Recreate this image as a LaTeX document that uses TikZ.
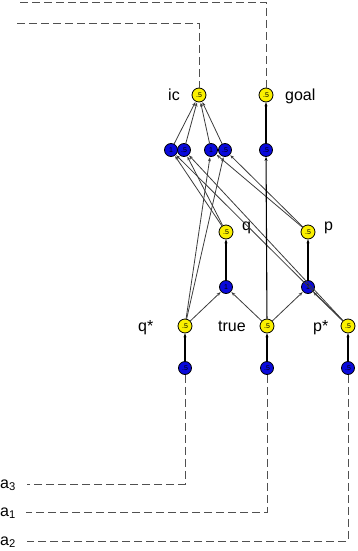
\documentclass[tikz,border=0pt]{standalone}
\usepackage{fontspec}
\setmainfont{Liberation Sans}
\usetikzlibrary{arrows.meta}
\definecolor{ynode}{RGB}{250,240,0}
\definecolor{bnode}{RGB}{10,10,220}
\definecolor{edgegray}{RGB}{60,60,60}
\definecolor{dashgray}{RGB}{80,80,80}
\tikzset{
  lit/.style={circle,draw=black,line width=0.8pt,fill=ynode,minimum size=14pt,inner sep=0pt,
    font=\fontsize{7}{7}\selectfont},
  rulenode/.style={circle,draw=black,line width=0.8pt,fill=bnode,minimum size=13pt,inner sep=0pt,
    font=\fontsize{7}{7}\selectfont},
  tagtext/.style={anchor=base west,inner sep=0pt,font=\fontsize{16}{18}\selectfont},
  link/.style={draw=edgegray,line width=0.8pt,-{Stealth[length=4pt,width=3pt]},shorten >=0.5pt},
  vlink/.style={draw=black,line width=1.1pt,-{Stealth[length=4pt,width=3pt]}},
  query/.style={draw=dashgray,line width=0.9pt,dash pattern=on 8pt off 4pt},
}
\begin{document}
\begin{tikzpicture}[x=1pt,y=-1pt]
\useasboundingbox (0,0) rectangle (358,551);

% literal nodes
\node[lit] (ic)   at (199,95)  {.5};
\node[lit] (goal) at (266,95)  {.5};
\node[lit] (q)    at (226,232) {.5};
\node[lit] (p)    at (308,232) {.5};
\node[lit] (qs)   at (185,326) {.5};
\node[lit] (tr)   at (267,326) {.5};
\node[lit] (ps)   at (348,326) {.5};

% rule nodes
\node[rulenode] (r1) at (171,150) {1};
\node[rulenode] (r2) at (184,150) {.5};
\node[rulenode] (r3) at (211,150) {1};
\node[rulenode] (r4) at (225,150) {.5};
\node[rulenode] (rg) at (266,150) {.5};
\node[rulenode] (rq) at (226,287) {1};
\node[rulenode] (rp) at (308,287) {1};
\node[rulenode] (bq) at (185,368) {.5};
\node[rulenode] (bt) at (267,368) {.5};
\node[rulenode] (bp) at (348,368) {.5};

% labels
\node[tagtext,anchor=base east] (lic) at (180,100) {ic};
\node[tagtext] (lgoal) at (285,100) {goal};
\node[tagtext] (lq) at (242,230) {q};
\node[tagtext] (lp) at (324,230) {p};
\node[tagtext] (lqs) at (138,331) {q*};
\node[tagtext] (ltr) at (218,331) {true};
\node[tagtext] (lps) at (313,331) {p*};
\node[tagtext] (la3) at (0,488) {a\textsubscript{3}};
\node[tagtext] (la1) at (0,516) {a\textsubscript{1}};
\node[tagtext] (la2) at (0,545) {a\textsubscript{2}};

% query connectors
\coordinate (g1) at (20,2);   \coordinate (g2) at (266,2);
\coordinate (i1) at (17,23);  \coordinate (i2) at (199,23);
\coordinate (e3) at (185,484); \coordinate (f3) at (27,484);
\coordinate (e1) at (267,512); \coordinate (f1) at (26,512);
\coordinate (e2) at (348,541); \coordinate (f2) at (27,541);
\draw[query] (g1) -- (g2) -- (goal.north);
\draw[query] (i1) -- (i2) -- (ic.north);
\draw[query] (bq.south) -- (e3) -- (f3);
\draw[query] (bt.south) -- (e1) -- (f1);
\draw[query] (bp.south) -- (e2) -- (f2);

% rules into the integrity constraint
\draw[link] (r1) -- (ic);
\draw[link] (r2) -- (ic);
\draw[link] (r3) -- (ic);
\draw[link] (r4) -- (ic);

% bodies of the constraint rules
\draw[link] (q) -- (r1);
\draw[link] (q) -- (r2);
\draw[link] (ps) -- (r1);
\draw[link] (ps) -- (r2);
\draw[link] (qs) -- (r3);
\draw[link] (qs) -- (r4);
\draw[link] (p) -- (r3);
\draw[link] (p) -- (r4);

% goal rule
\draw[vlink] (rg) -- (goal);
\draw[vlink] (tr) -- (rg);

% rules for q and p
\draw[vlink] (rq) -- (q);
\draw[vlink] (rp) -- (p);
\draw[link] (qs) -- (rq);
\draw[link] (tr) -- (rq);
\draw[link] (tr) -- (rp);
\draw[link] (ps) -- (rp);

% bottom rules
\draw[vlink] (bq) -- (qs);
\draw[vlink] (bt) -- (tr);
\draw[vlink] (bp) -- (ps);
\end{tikzpicture}
\end{document}
